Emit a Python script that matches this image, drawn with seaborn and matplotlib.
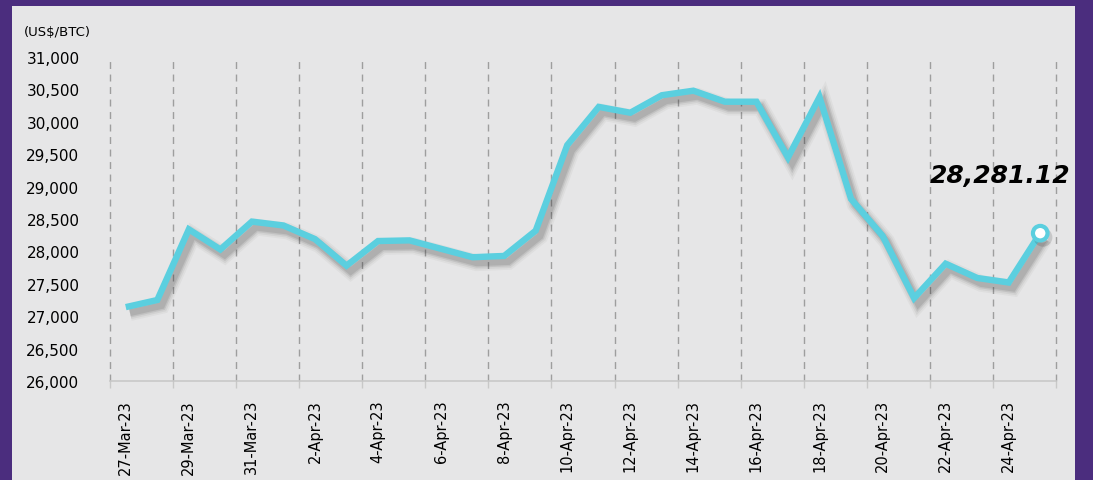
"""
BTC price, daily close, 27-Mar-23 to 25-Apr-23.
Category-style line chart with shadowed line and end-point callout.
"""

# Imports
import numpy as np
import pandas as pd
import matplotlib
matplotlib.use('Agg')
import matplotlib.pyplot as plt
import matplotlib.patheffects as pe
from matplotlib.patches import Rectangle
import seaborn as sns

# Data
dates = ['27-Mar-23', '28-Mar-23', '29-Mar-23', '30-Mar-23', '31-Mar-23',
         '1-Apr-23', '2-Apr-23', '3-Apr-23', '4-Apr-23', '5-Apr-23',
         '6-Apr-23', '7-Apr-23', '8-Apr-23', '9-Apr-23', '10-Apr-23',
         '11-Apr-23', '12-Apr-23', '13-Apr-23', '14-Apr-23', '15-Apr-23',
         '16-Apr-23', '17-Apr-23', '18-Apr-23', '19-Apr-23', '20-Apr-23',
         '21-Apr-23', '22-Apr-23', '23-Apr-23', '24-Apr-23', '25-Apr-23']
prices = [27140, 27250, 28340, 28030, 28460, 28400, 28190, 27780, 28160, 28170,
          28040, 27910, 27930, 28320, 29640, 30230, 30140, 30410, 30480, 30310,
          30310, 29450, 30380, 28810, 28240, 27280, 27810, 27590, 27520, 28281.12]
y_ticks = [26000, 26500, 27000, 27500, 28000, 28500, 29000, 29500, 30000, 30500, 31000]
unit_label = '(US$/BTC)'

# Colours
PURPLE = '#4B2D7E'
PANEL = '#E6E6E7'
CYAN = '#5BCFDF'
GRID = '#9E9E9E'

# Environment settings
sns.set_theme(style='ticks')
plt.rcParams['font.family'] = ['DejaVu Sans']
plt.rcParams['text.color'] = 'black'
plt.rcParams['xtick.color'] = 'black'
plt.rcParams['ytick.color'] = 'black'

df = pd.DataFrame({'pos': np.arange(len(dates)), 'date': dates, 'price': prices})

# Figure + panel
fig = plt.figure(figsize=(10.93, 4.81), dpi=100, facecolor=PURPLE)
fig.patches.append(Rectangle((12 / 1093, 0), (1075 - 12) / 1093, (481 - 7) / 481,
                             transform=fig.transFigure, facecolor=PANEL,
                             edgecolor='none', zorder=-10))
ax = fig.add_axes([110 / 1093, 99 / 481, (1056 - 110) / 1093, (382 - 58) / 481])
ax.set_zorder(5)
ax.set_facecolor('none')

# Line with soft shadow
shadow = [pe.SimpleLineShadow(offset=(3, -4), shadow_color='k', alpha=a, linewidth=w)
          for a, w in [(0.04, 12), (0.06, 9.5), (0.09, 7), (0.10, 5)]]
sns.lineplot(data=df, x='pos', y='price', ax=ax, color=CYAN, linewidth=4.6,
             solid_joinstyle='miter', solid_capstyle='butt',
             path_effects=shadow + [pe.Normal()], zorder=5)

# End point marker
last = df.iloc[-1]
ax.plot([last['pos']], [last['price']], marker='o', markersize=10.5,
        markerfacecolor='white', markeredgecolor=CYAN, markeredgewidth=3, zorder=6,
        path_effects=[pe.SimpleLineShadow(offset=(2, -3), alpha=0.15), pe.Normal()])
ax.annotate(f"{last['price']:,.2f}", xy=(last['pos'], last['price']),
            xytext=(-29, 42), textcoords='offset points', ha='center', va='center',
            fontsize=18, fontweight='bold', fontstyle='italic', color='black', zorder=7)

# Axes
n = len(dates)
ax.set_xlim(-0.5, n - 0.5)
ax.set_ylim(26000, 31000)
ax.set_yticks(y_ticks)
ax.set_yticklabels([f'{v:,}' for v in y_ticks], fontsize=11)
ax.tick_params(axis='y', length=0, pad=22)

ax.set_xticks(np.arange(0, n, 2))
ax.set_xticklabels(dates[::2], rotation=90, fontsize=10.5)
ax.tick_params(axis='x', which='major', length=0, pad=13)
bounds = np.arange(-0.5, n, 2)
ax.set_xticks(bounds, minor=True)
ax.tick_params(axis='x', which='minor', length=5, color='#C8C8C8', width=1)
for b in bounds:
    ax.axvline(b, color=GRID, linestyle=(0, (5, 4)), linewidth=1, zorder=1, clip_on=False)

for s in ['top', 'right', 'left']:
    ax.spines[s].set_visible(False)
ax.spines['bottom'].set_color('#C8C8C8')
ax.spines['bottom'].set_linewidth(1.2)
ax.set_xlabel('')
ax.set_ylabel('')

fig.text(24 / 1093, 1 - 32 / 481, unit_label, fontsize=9.5, va='center', ha='left')

fig.savefig('out.png', dpi=100, facecolor=PURPLE)
